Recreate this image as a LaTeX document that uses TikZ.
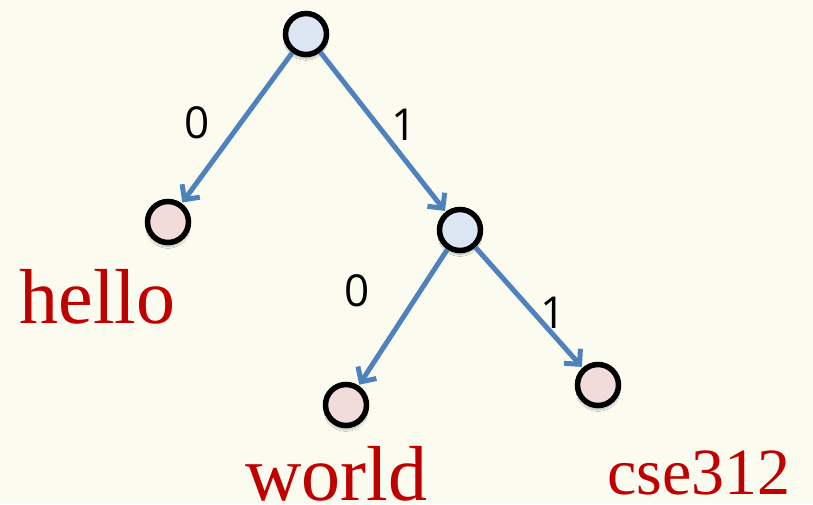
\documentclass[tikz,border=0pt]{standalone}
\usepackage{fontspec}
\setmainfont{Liberation Serif}
\newfontfamily\labfont{Open Sans}
\usetikzlibrary{arrows.meta,shadows.blur}
\definecolor{bgc}{HTML}{FBFBF0}
\definecolor{edgec}{HTML}{4F81BD}
\definecolor{innerc}{HTML}{DCE6F2}
\definecolor{leafc}{HTML}{F2DCDB}
\definecolor{wordc}{HTML}{C00000}
\tikzset{
  treenode/.style={circle, draw=black, line width=5.5pt, minimum size=41pt, inner sep=0pt,
    blur shadow={shadow blur steps=6, shadow xshift=0pt, shadow yshift=-4pt, shadow opacity=30}},
  inner/.style={treenode, fill=innerc},
  leaf/.style={treenode, fill=leafc},
  edge/.style={draw=edgec, line width=5pt, shorten >=1pt,
    -{Straight Barb[length=11pt, width=22pt, line width=5pt]}},
  bitlabel/.style={font=\labfont\fontsize{44}{44}\selectfont, text=black, inner sep=0pt},
  word/.style={font=\fontsize{78}{78}\selectfont, text=wordc, anchor=base, inner sep=0pt},
  smallword/.style={font=\fontsize{66}{66}\selectfont, text=wordc, anchor=base, inner sep=0pt}
}
\begin{document}
\begin{tikzpicture}[x=1pt, y=-1pt]
  \fill[bgc] (0,0) rectangle (813,504);
  \useasboundingbox (0,0) rectangle (813,504);
  \node[inner] (root) at (306,34) {};
  \node[leaf] (hello) at (168,222) {};
  \node[inner] (mid) at (460,230) {};
  \node[leaf] (world) at (346,405) {};
  \node[leaf] (cse) at (598,385) {};
  \draw[edge] (root) -- (hello);
  \draw[edge] (root) -- (mid);
  \draw[edge] (mid) -- (world);
  \draw[edge] (mid) -- (cse);
  \node[bitlabel] (l0) at (197,123) {0};
  \node[bitlabel] (l1) at (404,125) {1};
  \node[bitlabel] (l2) at (357,291) {0};
  \node[bitlabel] (l3) at (553,313) {1};
  \node[word] (thello) at (97.5,323) {hello};
  \node[word] (tworld) at (336.5,500) {world};
  \node[smallword] (tcse) at (699,494) {cse312};
\end{tikzpicture}
\end{document}
